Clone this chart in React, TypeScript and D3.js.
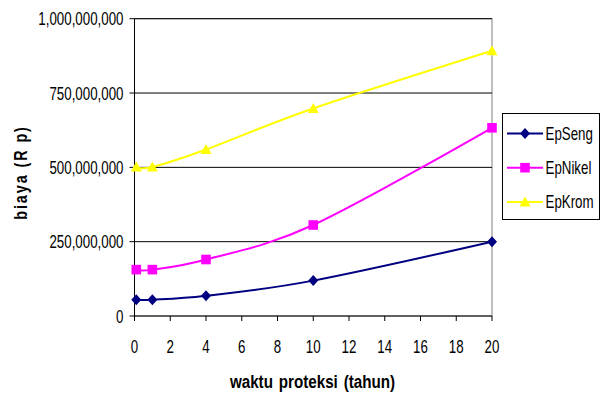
import React from "react";
import * as d3 from "d3";

// Years of protection (x) and cost in Rupiah for each coating type
const years = [0.1, 1, 4, 10, 20];
const epSeng = [55e6, 55e6, 68e6, 119e6, 250e6];
const epNikel = [156e6, 156e6, 190e6, 306e6, 633e6];
const epKrom = [501e6, 501e6, 560e6, 698e6, 892e6];

const seriesNames = ["EpSeng", "EpNikel", "EpKrom"];
const seriesColors = ["#000080", "#FF00FF", "#FFFF00"];
const seriesMarkers = ["diamond", "square", "triangle"];

const xTicks = [0, 2, 4, 6, 8, 10, 12, 14, 16, 18, 20];
const yTicks = [0, 250e6, 500e6, 750e6, 1e9];

const W = 602;
const H = 393;
const FONT = "Arial, 'Liberation Sans', sans-serif";
const SX = 0.74; // horizontal squeeze of the lettering

function markerPath(kind: string): string {
  if (kind === "diamond") return "M0,-5.5L5,0L0,5.5L-5,0Z";
  if (kind === "square") return "M-4.8,-4.8L4.8,-4.8L4.8,4.8L-4.8,4.8Z";
  return "M0,-5.5L5.5,4.5L-5.5,4.5Z";
}

export default function App() {
  const x = d3.scaleLinear().domain([0, 20]).range([134.5, 492]);
  const y = d3.scaleLinear().domain([0, 1e9]).range([316, 18.7]);
  const fmt = d3.format(",");

  const data = [epSeng, epNikel, epKrom];
  const line = d3
    .line<number>()
    .x((_, i) => x(years[i]))
    .y((v) => y(v))
    .curve(d3.curveCardinal.tension(0));

  const [x0, x1] = x.range();
  const yTop = y(1e9);
  const yBot = y(0);

  return (
    <svg
      width={W}
      height={H}
      style={{ position: "absolute", left: 0, top: 0, background: "#fff" }}
      fontFamily={FONT}
    >
      {/* plot frame */}
      <rect x={x0} y={yTop} width={x1 - x0} height={yBot - yTop} fill="none" stroke="#808080" strokeWidth={1} />

      {/* horizontal gridlines */}
      {yTicks.slice(1).map((t) => (
        <line key={"g" + t} x1={x0} x2={x1} y1={y(t)} y2={y(t)} stroke="#000" strokeWidth={1} />
      ))}

      {/* axes */}
      <line x1={x0} x2={x0} y1={yTop} y2={yBot + 0.5} stroke="#000" strokeWidth={1} />
      <line x1={x0} x2={x1} y1={yBot} y2={yBot} stroke="#000" strokeWidth={1} />

      {yTicks.map((t) => (
        <g key={"y" + t}>
          <line x1={x0 - 5} x2={x0} y1={y(t)} y2={y(t)} stroke="#000" />
          <text
            transform={`translate(123.5,${y(t) + 6.5}) scale(${SX},1)`}
            textAnchor="end"
            fontSize={18}
            fill="#000"
          >
            {fmt(t)}
          </text>
        </g>
      ))}

      {xTicks.map((t) => (
        <g key={"x" + t}>
          <line x1={x(t)} x2={x(t)} y1={yBot} y2={yBot + 5} stroke="#000" />
          <text
            transform={`translate(${x(t)},353) scale(${SX},1)`}
            textAnchor="middle"
            fontSize={18}
            fill="#000"
          >
            {t}
          </text>
        </g>
      ))}

      {/* axis titles */}
      <text
        transform={`translate(312.5,388) scale(0.8,1)`}
        textAnchor="middle"
        fontSize={19}
        fontWeight="bold"
        wordSpacing={2}
      >
        waktu proteksi (tahun)
      </text>
      <text
        transform={`translate(26.5,172.5) rotate(-90) scale(0.8,1)`}
        textAnchor="middle"
        fontSize={18}
        fontWeight="bold"
        letterSpacing={2.4}
      >
        biaya (R p)
      </text>

      {/* series */}
      {data.map((vals, si) => (
        <g key={seriesNames[si]}>
          <path d={line(vals) || ""} fill="none" stroke={seriesColors[si]} strokeWidth={2} />
          {vals.map((v, i) => (
            <path
              key={i}
              d={markerPath(seriesMarkers[si])}
              transform={`translate(${x(years[i])},${y(v)})`}
              fill={seriesColors[si]}
            />
          ))}
        </g>
      ))}

      {/* legend */}
      <rect x={502.5} y={113.5} width={97} height={106} fill="#fff" stroke="#000" strokeWidth={1} />
      {seriesNames.map((name, i) => {
        const ly = 133.5 + i * 34.2;
        return (
          <g key={"l" + name}>
            <line x1={507} x2={543} y1={ly} y2={ly} stroke={seriesColors[i]} strokeWidth={2} />
            <path d={markerPath(seriesMarkers[i])} transform={`translate(525,${ly})`} fill={seriesColors[i]} />
            <text transform={`translate(545.5,${ly + 6.5}) scale(${SX},1)`} fontSize={18} fill="#000">
              {name}
            </text>
          </g>
        );
      })}
    </svg>
  );
}
